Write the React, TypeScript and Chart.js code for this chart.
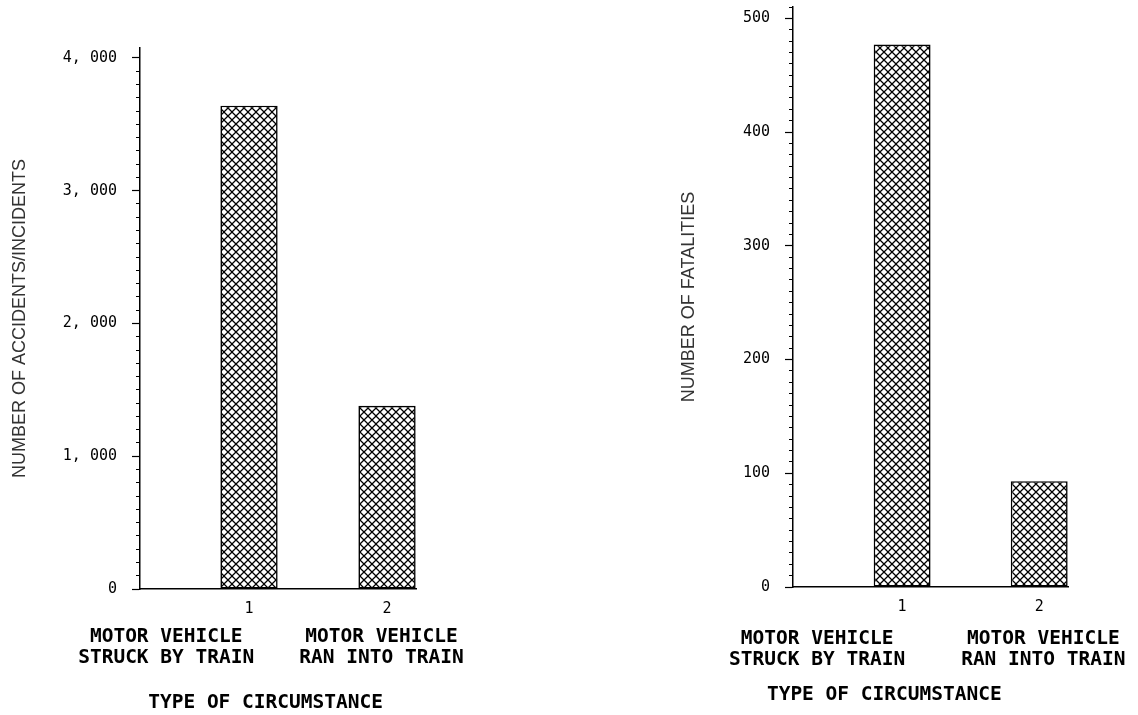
import React, { useEffect, useRef } from "react";
import { Chart, registerables } from "chart.js";

Chart.register(...registerables);

// ---- data ----
const categoryIds = [1, 2];
const categoryNames = [
  ["MOTOR VEHICLE", "STRUCK BY TRAIN"],
  ["MOTOR VEHICLE", "RAN INTO TRAIN"],
];
const accidents = [3640, 1380];
const fatalities = [477, 93];
const accidentTicks = [0, 1000, 2000, 3000, 4000];
const fatalityTicks = [0, 100, 200, 300, 400, 500];
const xTitle = "TYPE OF CIRCUMSTANCE";
const accidentsTitle = "NUMBER OF ACCIDENTS/INCIDENTS";
const fatalitiesTitle = "NUMBER OF FATALITIES";

const TICK_FONT = { family: "'DejaVu Sans Mono', monospace", size: 15 };
const LABEL_FONT = "bold 19.5px 'DejaVu Sans Mono', monospace";

function makeHatch(ctx: CanvasRenderingContext2D) {
  const c = document.createElement("canvas");
  c.width = 8;
  c.height = 8;
  const g = c.getContext("2d")!;
  g.fillStyle = "#fff";
  g.fillRect(0, 0, 8, 8);
  g.strokeStyle = "#000";
  g.lineWidth = 1.25;
  g.beginPath();
  g.moveTo(-1, -1);
  g.lineTo(9, 9);
  g.moveTo(9, -1);
  g.lineTo(-1, 9);
  g.stroke();
  return ctx.createPattern(c, "repeat");
}

const bottomText = {
  id: "bottomText",
  afterDraw(chart: any, _args: any, opts: any) {
    const { ctx, chartArea, scales } = chart;
    const x = scales.x;
    ctx.save();
    ctx.fillStyle = "#000";
    ctx.font = LABEL_FONT;
    ctx.textAlign = "center";
    ctx.textBaseline = "middle";
    const names: string[][] = opts.names;
    names.forEach((lines, i) => {
      const px = x.getPixelForValue(opts.labelAt[i]);
      lines.forEach((t, j) =>
        ctx.fillText(t, px, chartArea.bottom + opts.labelOffset + j * opts.lineGap)
      );
    });
    ctx.fillText(opts.title, x.getPixelForValue(opts.titleAt), chartArea.bottom + opts.titleOffset);
    ctx.restore();
  },
};

type PanelProps = {
  left: number;
  width: number;
  values: number[];
  majorTicks: number[];
  minorStep: number;
  yMax: number;
  yTitle: string;
  xMin: number;
  xMax: number;
  padding: { top: number; left: number; right: number; bottom: number };
  yWidth: number;
  xHeight: number;
  labelAt: number[];
  labelOffset: number;
  titleAt: number;
  titleOffset: number;
};

const HEIGHT = 715;

function Panel(p: PanelProps) {
  const ref = useRef<HTMLCanvasElement | null>(null);
  useEffect(() => {
    const canvas = ref.current!;
    const ctx = canvas.getContext("2d")!;
    const hatch = makeHatch(ctx);
    const chart = new Chart(ctx, {
      type: "bar",
      data: {
        datasets: [
          {
            data: categoryIds.map((id, i) => ({ x: id, y: p.values[i] })),
            backgroundColor: hatch as any,
            borderColor: "#000",
            borderWidth: 1.6,
            borderSkipped: false,
            barPercentage: 0.415,
            categoryPercentage: 1,
          },
        ],
      },
      plugins: [bottomText],
      options: {
        responsive: false,
        animation: false,
        devicePixelRatio: 1,
        layout: { padding: p.padding },
        plugins: {
          legend: { display: false },
          tooltip: { enabled: false },
          bottomText: {
            names: categoryNames,
            labelAt: p.labelAt,
            labelOffset: p.labelOffset,
            lineGap: 20.5,
            title: xTitle,
            titleAt: p.titleAt,
            titleOffset: p.titleOffset,
          },
        } as any,
        scales: {
          x: {
            type: "linear",
            offset: false,
            min: p.xMin,
            max: p.xMax,
            afterBuildTicks: (s: any) => {
              s.ticks = categoryIds.map((v) => ({ value: v }));
            },
            afterFit: (s: any) => {
              s.height = p.xHeight;
              s.paddingLeft = 0;
              s.paddingRight = 0;
            },
            grid: { display: false, drawTicks: false, offset: false },
            border: { display: true, color: "#000", width: 1.5 },
            ticks: {
              font: TICK_FONT,
              color: "#000",
              padding: 11,
              maxRotation: 0,
              callback: (v: any) => String(v),
            },
          },
          y: {
            type: "linear",
            position: "left",
            weight: 1,
            min: 0,
            max: p.yMax,
            afterBuildTicks: (s: any) => {
              s.ticks = p.majorTicks.map((v) => ({ value: v }));
            },
            afterFit: (s: any) => {
              s.width = p.yWidth;
              s.paddingTop = 0;
              s.paddingBottom = 0;
            },
            grid: {
              drawOnChartArea: false,
              drawTicks: true,
              tickLength: 8,
              tickColor: "#000",
              tickWidth: 1.2,
            },
            border: { display: true, color: "#000", width: 1.5 },
            ticks: {
              font: TICK_FONT,
              color: "#000",
              padding: 15,
              callback: (v: any) => Number(v).toLocaleString("en-US").replace(",", ", "),
            },
            title: {
              display: true,
              text: p.yTitle,
              color: "#333",
              font: { family: "'Liberation Sans', Arial, sans-serif", size: 18 },
              padding: { top: 9, bottom: 0 },
            },
          },
          yMinor: {
            type: "linear",
            axis: "y",
            position: "left",
            weight: 0,
            min: 0,
            max: p.yMax,
            ticks: { display: false, stepSize: p.minorStep },
            afterBuildTicks: (s: any) => {
              s.ticks = s.ticks.filter((t: any) => t.value % p.minorStep === 0);
            },
            afterFit: (s: any) => {
              s.width = 0;
              s.paddingTop = 0;
              s.paddingBottom = 0;
            },
            grid: {
              drawOnChartArea: false,
              drawTicks: true,
              tickLength: 4,
              tickColor: "#000",
              tickWidth: 1,
            },
            border: { display: false },
          },
        } as any,
      },
    });
    return () => chart.destroy();
  }, []);
  return (
    <div style={{ position: "absolute", left: p.left, top: 0, width: p.width, height: HEIGHT }}>
      <canvas ref={ref} width={p.width} height={HEIGHT} style={{ width: p.width, height: HEIGHT, display: "block" }} />
    </div>
  );
}

export default function App() {
  return (
    <div style={{ position: "absolute", left: 0, top: 0, width: 1138, height: HEIGHT, background: "#fff" }}>
      <Panel
        left={0}
        width={560}
        values={accidents}
        majorTicks={accidentTicks}
        minorStep={100}
        yMax={4075}
        yTitle={accidentsTitle}
        xMin={0.21}
        xMax={2.21}
        padding={{ top: 48, left: 0, right: 144, bottom: 0 }}
        yWidth={140}
        xHeight={126}
        labelAt={[0.4, 1.96]}
        labelOffset={48}
        titleAt={1.12}
        titleOffset={114}
      />
      <Panel
        left={560}
        width={578}
        values={fatalities}
        majorTicks={fatalityTicks}
        minorStep={10}
        yMax={510}
        yTitle={fatalitiesTitle}
        xMin={0.204}
        xMax={2.21}
        padding={{ top: 7, left: 109, right: 70, bottom: 0 }}
        yWidth={124}
        xHeight={128}
        labelAt={[0.38, 2.03]}
        labelOffset={52}
        titleAt={0.87}
        titleOffset={108}
      />
    </div>
  );
}
